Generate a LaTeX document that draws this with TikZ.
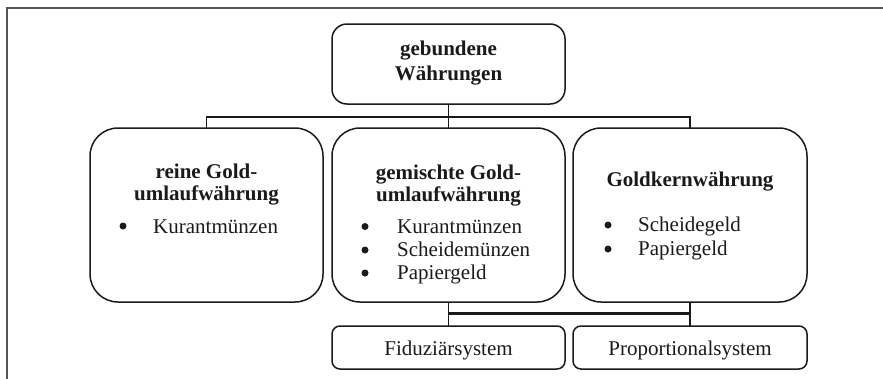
\documentclass[tikz,border=0pt]{standalone}
\usepackage{fontspec}
\setmainfont{Liberation Serif}
\definecolor{ink}{HTML}{1A1A1A}
\definecolor{frame}{HTML}{555555}
\tikzset{
  box/.style={draw=ink, line width=1.5pt, inner sep=0pt, outer sep=0pt},
  topbox/.style={box, rounded corners=15pt, minimum width=233pt, minimum height=80pt},
  bigbox/.style={box, rounded corners=28pt, minimum width=233pt, minimum height=174pt},
  smallbox/.style={box, rounded corners=8pt, minimum width=233pt, minimum height=43pt},
  conn/.style={draw=ink, line width=1.5pt},
  title/.style={anchor=base, inner sep=0pt, text=ink, font=\fontsize{21}{25}\selectfont\bfseries},
  item/.style={anchor=base west, inner sep=0pt, text=ink, font=\fontsize{21}{25}\selectfont},
  label/.style={anchor=base, inner sep=0pt, text=ink, font=\fontsize{21}{25}\selectfont},
  dot/.style={circle, fill=ink, inner sep=0pt, minimum size=7pt}
}
\begin{document}
\begin{tikzpicture}[x=1pt, y=-1pt]
\useasboundingbox (0,0) rectangle (883,378);
\draw[frame, line width=2.2pt] (884,8) -- (7,8) -- (7,379);

% boxes
\node[topbox] (top) at (448.5,64) {};
\node[bigbox] (left) at (206.5,215) {};
\node[bigbox] (mid) at (448.5,215) {};
\node[bigbox, minimum width=234pt] (right) at (690,215) {};
\node[smallbox] (fid) at (448.5,347.5) {};
\node[smallbox, minimum width=234pt] (prop) at (690,347.5) {};

% connectors
\coordinate (j1) at (448.5,117);
\coordinate (j2) at (448.5,313.5);
\draw[conn] (top.south) -- (mid.north);
\draw[conn] (left.north) |- (j1) -| (right.north);
\draw[conn] (mid.south) -- (fid.north);
\draw[conn] (right.south) -- (prop.north);
\draw[conn, line width=2.2pt] (mid.south |- j2) -- (right.south |- j2);

% top text
\node[title] (t1) at (448.5,55) {gebundene};
\node[title] (t2) at (448.5,80) {Währungen};

% left box
\node[title] (l1) at (206.5,178) {reine Gold-};
\node[title] (l2) at (206.5,200) {umlaufwährung};
\node[dot] (lb1) at (123,226) {};
\node[item] (li1) at (153,233) {Kurantmünzen};

% middle box
\node[title] (m1) at (448.5,179) {gemischte Gold-};
\node[title] (m2) at (448.5,201) {umlaufwährung};
\node[dot] (mb1) at (365,226.5) {};
\node[dot] (mb2) at (365,250) {};
\node[dot] (mb3) at (365,273) {};
\node[item] (mi1) at (397,233) {Kurantmünzen};
\node[item] (mi2) at (397,256.5) {Scheidemünzen};
\node[item] (mi3) at (397,279.5) {Papiergeld};

% right box
\node[title] (r1) at (690,186.5) {Goldkernwährung};
\node[dot] (rb1) at (608,225) {};
\node[dot] (rb2) at (608,249) {};
\node[item] (ri1) at (638,231) {Scheidegeld};
\node[item] (ri2) at (638,255) {Papiergeld};

% bottom labels
\node[label] (f1) at (448.5,355) {Fiduziärsystem};
\node[label] (p1) at (690,355) {Proportionalsystem};
\end{tikzpicture}
\end{document}
